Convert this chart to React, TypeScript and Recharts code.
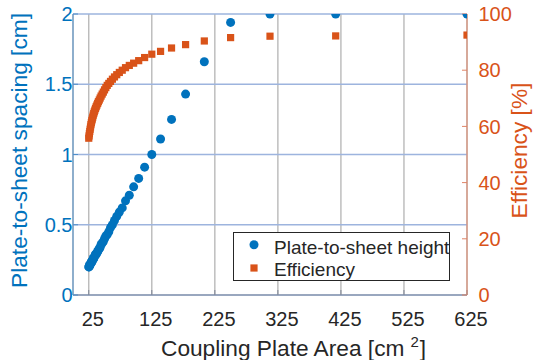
import React from 'react';
import { ScatterChart, Scatter, XAxis, YAxis, CartesianGrid, Legend } from 'recharts';

// Coupling plate area [cm^2]
const areaValues = [
  625, 416.7, 312.5, 250, 208.3, 178.6, 156.3, 138.9, 125, 113.6,
  104.2, 96.2, 89.3, 83.3, 78.1, 73.5, 69.4, 65.8, 62.5, 59.5,
  56.8, 54.3, 52.1, 50, 48.1, 46.3, 44.6, 43.1, 41.7, 40.3,
  39.1, 37.9, 36.8, 35.7, 34.7, 33.8, 32.9, 32.1, 31.3, 30.5,
  29.8, 29.1, 28.4, 27.8, 27.2, 26.6, 26.0, 25.5, 25.0,
];

// Plate-to-sheet height [cm]
const heightValues = [
  2.0, 2.0, 2.0, 1.94, 1.66, 1.43, 1.25, 1.11, 1.0, 0.91,
  0.83, 0.77, 0.71, 0.67, 0.62, 0.59, 0.56, 0.53, 0.5, 0.48,
  0.45, 0.43, 0.42, 0.4, 0.38, 0.37, 0.36, 0.34, 0.33, 0.32,
  0.31, 0.3, 0.29, 0.29, 0.28, 0.27, 0.26, 0.26, 0.25, 0.24,
  0.24, 0.23, 0.23, 0.22, 0.22, 0.21, 0.21, 0.2, 0.2,
];

// Efficiency [%]
const efficiencyValues = [
  92.5, 92.2, 92.1, 91.6, 90.4, 89.1, 87.9, 86.7, 85.7, 84.5,
  83.4, 82.5, 81.7, 80.9, 80.0, 79.2, 78.4, 77.6, 76.8, 76.0,
  75.3, 74.6, 73.8, 73.0, 72.2, 71.5, 70.8, 70.1, 69.4, 68.8,
  68.2, 67.6, 67.0, 66.4, 65.8, 65.2, 64.6, 64.0, 63.3, 62.6,
  62.0, 61.3, 60.6, 59.8, 59.0, 58.2, 57.4, 56.6, 55.8,
];

const xTicks = [25, 125, 225, 325, 425, 525, 625];
const leftTicks = [0, 0.5, 1, 1.5, 2];
const rightTicks = [0, 20, 40, 60, 80, 100];

const seriesNames = ['Plate-to-sheet height', 'Efficiency'];
const xTitle = 'Coupling Plate Area [cm';
const xTitleSup = '2';
const xTitleEnd = ']';
const leftTitle = 'Plate-to-sheet spacing [cm]';
const rightTitle = 'Efficiency [%]';

const heightData = areaValues.map((x, i) => ({ x, y: heightValues[i] }));
const effData = areaValues.map((x, i) => ({ x, y: efficiencyValues[i] }));

const FONT = '"Liberation Sans", Arial, Helvetica, sans-serif';
const BLUE = '#0072BD';
const ORANGE = '#D95319';
const BLUE_LINE = '#4f8fcb';
const ORANGE_LINE = '#df8466';
const GRAY_LINE = '#7f8797';
const DARK = '#262626';
const VGRID = '#b4b4b4';
const HGRID = '#9db4de';

const LeftTick = (props: any) => (
  <text x={props.x - 0.5} y={props.y + 7.2} textAnchor="end" fill={BLUE} fontSize={20} fontFamily={FONT}>
    {props.payload.value}
  </text>
);

const RightTick = (props: any) => (
  <text x={props.x + 11.5} y={props.y + 7.2} textAnchor="start" fill={ORANGE} fontSize={20} fontFamily={FONT}>
    {props.payload.value}
  </text>
);

const BottomTick = (props: any) => (
  <text x={props.x + 4} y={props.y + 31} textAnchor="middle" fill={DARK} fontSize={20} fontFamily={FONT}>
    {props.payload.value}
  </text>
);

const XTitle = (props: any) => {
  const vb = props.viewBox || { x: 73, y: 295 };
  return (
    <text x={vb.x + 88} y={vb.y + 60.5} fill={DARK} fontSize={22.7} fontFamily={FONT} textAnchor="start">
      {xTitle}
      <tspan dx={6} dy={-9} fontSize={15}>{xTitleSup}</tspan>
      <tspan dx={1} dy={9} fontSize={22.7}>{xTitleEnd}</tspan>
    </text>
  );
};

const LeftTitle = (props: any) => {
  const vb = props.viewBox || { x: 0, y: 14, width: 73, height: 281 };
  const cx = vb.x + 27;
  const cy = vb.y + vb.height / 2 - 4;
  return (
    <text transform={`translate(${cx},${cy}) rotate(-90)`} textAnchor="middle" fill={BLUE} fontSize={22.7} fontFamily={FONT}>
      {leftTitle}
    </text>
  );
};

const RightTitle = (props: any) => {
  const vb = props.viewBox || { x: 467, y: 14, width: 74, height: 281 };
  const cx = vb.x + 60;
  const cy = vb.y + vb.height / 2 - 4;
  return (
    <text transform={`translate(${cx},${cy}) rotate(-90)`} textAnchor="middle" fill={ORANGE} fontSize={22.7} fontFamily={FONT}>
      {rightTitle}
    </text>
  );
};

const CircleShape = (props: any) => <circle cx={props.cx} cy={props.cy} r={4.5} fill={BLUE} />;
const SquareShape = (props: any) => (
  <rect x={props.cx - 3.6} y={props.cy - 3.6} width={7.2} height={7.2} fill={ORANGE} />
);

const LegendBox = () => (
  <svg width={217} height={49} style={{ display: 'block' }}>
    <rect x={0.5} y={0.5} width={216} height={48} fill="#ffffff" stroke={DARK} strokeWidth={1} />
    <circle cx={21} cy={12.7} r={4.5} fill={BLUE} />
    <text x={41} y={22} fill={DARK} fontSize={19} fontFamily={FONT}>{seriesNames[0]}</text>
    <rect x={17.4} y={32.4} width={7.2} height={7.2} fill={ORANGE} />
    <text x={41} y={44.4} fill={DARK} fontSize={19} fontFamily={FONT}>{seriesNames[1]}</text>
  </svg>
);

export default function App() {
  return (
    <div style={{ position: 'absolute', left: 0, top: 0, background: '#ffffff' }}>
      <ScatterChart width={541} height={360} margin={{ top: 14, right: 0, bottom: 0, left: 0 }} style={{ fontFamily: FONT }}>
        <CartesianGrid horizontal={false} vertical={true} verticalPoints={undefined} stroke={VGRID} strokeWidth={1.3} strokeOpacity={1} />
        <CartesianGrid horizontal={true} vertical={false} stroke={HGRID} strokeWidth={1.5} strokeOpacity={1} />
        <XAxis
          type="number"
          dataKey="x"
          domain={[0, 625]}
          ticks={xTicks}
          interval={0}
          height={65}
          tickSize={-5}
          tickMargin={5}
          tick={BottomTick}
          tickLine={{ stroke: GRAY_LINE }}
          axisLine={{ stroke: GRAY_LINE }}
          allowDataOverflow
          label={XTitle}
        />
        <YAxis
          orientation="left"
          type="number"
          dataKey="y"
          domain={[0, 2]}
          ticks={leftTicks}
          interval={0}
          width={73}
          tickSize={-5}
          tickMargin={5}
          tick={LeftTick}
          tickLine={{ stroke: BLUE_LINE }}
          axisLine={{ stroke: BLUE_LINE }}
          allowDataOverflow
          label={LeftTitle}
        />
        <YAxis
          yAxisId="right"
          orientation="right"
          type="number"
          dataKey="y"
          domain={[0, 100]}
          ticks={rightTicks}
          interval={0}
          width={74}
          tickSize={-5}
          tickMargin={5}
          tick={RightTick}
          tickLine={{ stroke: ORANGE_LINE }}
          axisLine={{ stroke: ORANGE_LINE }}
          allowDataOverflow
          label={RightTitle}
        />
        <Scatter
          name={seriesNames[1]}
          data={effData}
          yAxisId="right"
          fill={ORANGE}
          shape={SquareShape}
          isAnimationActive={false}
        />
        <Scatter
          name={seriesNames[0]}
          data={heightData}
          fill={BLUE}
          shape={CircleShape}
          isAnimationActive={false}
        />
        <Legend
          layout="horizontal"
          verticalAlign="middle"
          align="center"
          wrapperStyle={{ left: 233, top: 232, width: 217, height: 49 }}
          content={LegendBox}
        />
      </ScatterChart>
    </div>
  );
}
